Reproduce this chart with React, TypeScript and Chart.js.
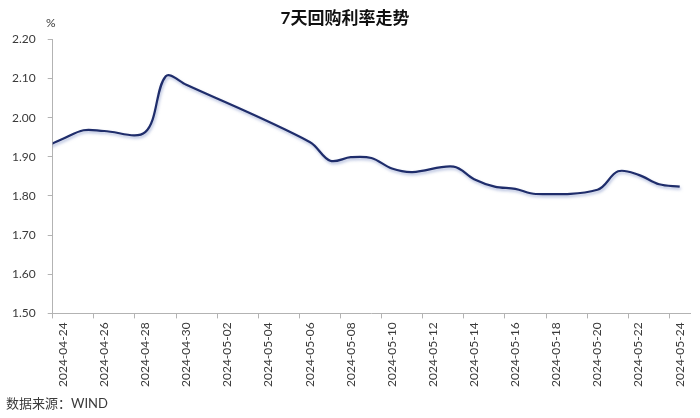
import React, { useEffect, useRef } from 'react';
import { Chart, registerables } from 'chart.js';

Chart.register(...registerables);

const titleText = '7天回购利率走势';
const unitLabel = '%';
const sourceText = '数据来源：WIND';

const axisStart = '2024-04-24';
const tickLabels = [
  '2024-04-24', '2024-04-26', '2024-04-28', '2024-04-30', '2024-05-02', '2024-05-04',
  '2024-05-06', '2024-05-08', '2024-05-10', '2024-05-12', '2024-05-14', '2024-05-16',
  '2024-05-18', '2024-05-20', '2024-05-22', '2024-05-24',
];

const dates = [
  '2024-04-23', '2024-04-24', '2024-04-25', '2024-04-26', '2024-04-28', '2024-04-29',
  '2024-04-30', '2024-05-06', '2024-05-07', '2024-05-08', '2024-05-09', '2024-05-10',
  '2024-05-11', '2024-05-13', '2024-05-14', '2024-05-15', '2024-05-16', '2024-05-17',
  '2024-05-20', '2024-05-21', '2024-05-22', '2024-05-23', '2024-05-24',
];
const rates = [
  1.922, 1.946, 1.968, 1.966, 1.963, 2.106,
  2.084, 1.938, 1.890, 1.899, 1.897, 1.870,
  1.861, 1.875, 1.843, 1.824, 1.818, 1.805,
  1.816, 1.863, 1.854, 1.830, 1.824,
];

const yMin = 1.5;
const yMax = 2.2;
const yStep = 0.1;

const DAY = 86400000;
const dayIndex = (d: string) => Math.round((Date.parse(d) - Date.parse(axisStart)) / DAY);
const dayCount = (tickLabels.length - 1) * 2 + 1;

const FONT = "Lato, 'Noto Sans CJK SC', sans-serif";
const AXIS_COLOR = '#b3b3b3';
const TEXT_COLOR = '#3a3a3a';
const LINE_COLOR = '#1f2d6b';

export default function App() {
  const canvasRef = useRef<HTMLCanvasElement | null>(null);

  useEffect(() => {
    document.body.style.margin = '0';
    const canvas = canvasRef.current;
    if (!canvas) return;

    const points = dates.map((d, i) => ({ x: dayIndex(d), y: rates[i] }));

    const extraText = {
      id: 'extraText',
      afterDraw(chart: any) {
        const { ctx, chartArea } = chart;
        ctx.save();
        ctx.fillStyle = TEXT_COLOR;
        ctx.font = `12px ${FONT}`;
        ctx.textAlign = 'center';
        ctx.textBaseline = 'middle';
        ctx.fillText(unitLabel, chartArea.left - 2, chartArea.top - 16);
        ctx.font = `13px ${FONT}`;
        ctx.textAlign = 'left';
        ctx.fillText(sourceText, 6, 404);
        ctx.restore();
      },
    };

    const shadow = {
      id: 'lineShadow',
      beforeDatasetDraw(chart: any) {
        const ctx = chart.ctx;
        ctx.save();
        ctx.shadowColor = 'rgba(110, 130, 190, 0.55)';
        ctx.shadowBlur = 3;
        ctx.shadowOffsetX = 1;
        ctx.shadowOffsetY = 2;
      },
      afterDatasetDraw(chart: any) {
        chart.ctx.restore();
      },
    };

    const chart = new Chart(canvas, {
      type: 'line',
      data: {
        datasets: [
          {
            label: '7天回购利率',
            data: points,
            borderColor: LINE_COLOR,
            borderWidth: 2.2,
            pointRadius: 0,
            tension: 0.35,
            fill: false,
          },
        ],
      },
      options: {
        animation: false,
        responsive: true,
        maintainAspectRatio: false,
        layout: { padding: { left: 0, right: 10, top: 0, bottom: 27 } },
        plugins: {
          legend: { display: false },
          tooltip: { enabled: false },
          title: {
            display: true,
            text: titleText,
            color: '#111',
            font: { family: FONT, size: 17, weight: 'bold' },
            padding: { top: 8, bottom: 11 },
          },
        },
        scales: {
          x: {
            type: 'linear',
            min: -0.5,
            max: dayCount - 0.5,
            afterBuildTicks: (scale: any) => {
              scale.ticks = Array.from({ length: dayCount }, (_, i) => ({ value: i }));
            },
            border: { display: true, color: AXIS_COLOR, width: 1 },
            grid: {
              display: true,
              drawOnChartArea: false,
              drawTicks: true,
              tickLength: 5,
              offset: true,
              color: (ctx: any) => (ctx.index % 2 === 0 ? AXIS_COLOR : 'rgba(0,0,0,0)'),
            },
            ticks: {
              autoSkip: false,
              minRotation: 90,
              maxRotation: 90,
              padding: 4,
              color: TEXT_COLOR,
              font: { family: FONT, size: 12 },
              callback: (value: any) => {
                const v = Math.round(Number(value));
                return v % 2 === 0 ? tickLabels[v / 2] : '';
              },
            },
          },
          y: {
            min: yMin,
            max: yMax,
            border: { display: true, color: AXIS_COLOR, width: 1 },
            grid: {
              display: true,
              drawOnChartArea: false,
              drawTicks: true,
              tickLength: 5,
              color: AXIS_COLOR,
            },
            ticks: {
              stepSize: yStep,
              padding: 12,
              color: TEXT_COLOR,
              font: { family: FONT, size: 12 },
              callback: (value: any) => Number(value).toFixed(2),
            },
          },
        },
      },
      plugins: [shadow, extraText],
    });

    return () => chart.destroy();
  }, []);

  return (
    <div style={{ position: 'relative', width: 700, height: 418 }}>
      <canvas ref={canvasRef} />
    </div>
  );
}
